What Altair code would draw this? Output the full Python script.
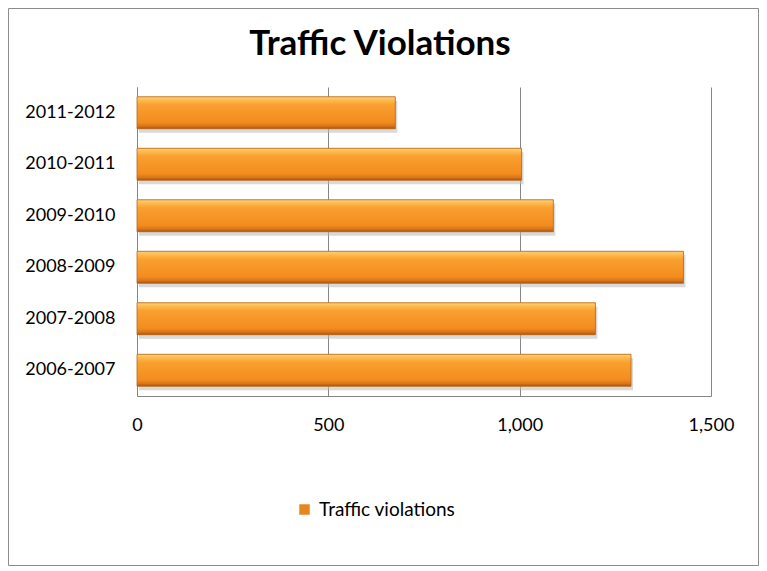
import altair as alt
import pandas as pd

# ---- data ----
periods = ["2006-2007", "2007-2008", "2008-2009", "2009-2010", "2010-2011", "2011-2012"]
violations = [1291, 1198, 1428, 1088, 1005, 675]
series_name = "Traffic violations"
chart_title = "Traffic Violations"
x_ticks = [0, 500, 1000, 1500]

df = pd.DataFrame({"period": periods, "violations": violations, "series": series_name})
order = periods[::-1]

W, H = 574, 309
PL, PT, PR, PB = 129, 79, 48, 172
FONT = "Lato"
GRID = "#868686"

y_enc = alt.Y(
    "period:N", sort=order, title=None,
    scale=alt.Scale(paddingInner=0.38, paddingOuter=0.19),
    axis=alt.Axis(labelFont=FONT, labelFontSize=18, labelColor="#000000",
                  labelPadding=22, ticks=False, domainColor=GRID, grid=False),
)
x_enc = alt.X(
    "violations:Q", title=None,
    scale=alt.Scale(domain=[0, 1500], nice=False),
    axis=alt.Axis(values=x_ticks, format=",.0f", labelFont=FONT, labelFontSize=18,
                  labelColor="#000000", labelPadding=20, labelFlush=False, ticks=False,
                  domainColor=GRID, grid=True, gridColor=GRID),
)

base = alt.Chart(df)

shadow = base.mark_bar(color="#b9b9b9", opacity=0.55, xOffset=2, yOffset=4).encode(x=x_enc, y=y_enc)

legend_bars = base.mark_bar().encode(
    x=x_enc, y=y_enc,
    color=alt.Color("series:N", scale=alt.Scale(range=["#E8861E"]),
                    legend=alt.Legend(orient="none", legendX=158, legendY=413, title=None,
                                      symbolType="square", symbolSize=110, symbolStrokeWidth=0,
                                      labelFont=FONT, labelFontSize=19, labelColor="#000000",
                                      labelOffset=5)),
)

grad = alt.LinearGradient(
    gradient="linear", x1=0, y1=0, x2=0, y2=1,
    stops=[
        alt.GradientStop(color="#FBD27A", offset=0),
        alt.GradientStop(color="#FDB849", offset=0.12),
        alt.GradientStop(color="#F9A030", offset=0.25),
        alt.GradientStop(color="#F38C1E", offset=0.8),
        alt.GradientStop(color="#D97418", offset=0.92),
        alt.GradientStop(color="#9C5518", offset=1),
    ],
)
bars = base.mark_bar(color=grad, stroke="#B8681E", strokeWidth=0.8).encode(x=x_enc, y=y_enc)

title = alt.Chart(pd.DataFrame({"t": [chart_title]})).mark_text(
    font=FONT, fontSize=35, fontWeight="bold", align="center", baseline="alphabetic", color="#000000"
).encode(x=alt.value(243), y=alt.value(-32), text="t:N")

border = alt.Chart(pd.DataFrame({"b": [0]})).mark_rect(
    filled=False, stroke="#8c8c8c", strokeWidth=1
).encode(x=alt.value(-128.5), x2=alt.value(621.5), y=alt.value(-78.5), y2=alt.value(478.5))

chart = alt.layer(border, shadow, legend_bars, bars, title).properties(
    width=W, height=H,
    padding={"left": PL, "top": PT, "right": PR, "bottom": PB},
    autosize=alt.AutoSizeParams(type="none"),
    background="white",
).configure_view(strokeWidth=0)

chart.save("out.html", embed_options={"renderer": "svg", "actions": False})
